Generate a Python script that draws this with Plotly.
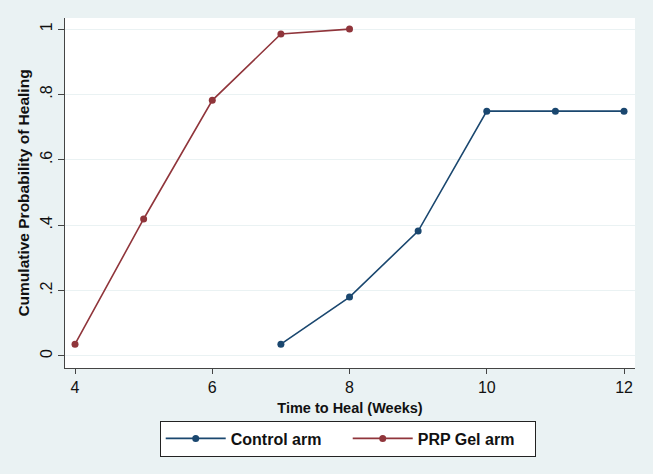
import plotly.graph_objects as go

weeks_control = [7, 8, 9, 10, 11, 12]
prob_control = [0.036, 0.18, 0.382, 0.749, 0.749, 0.749]
weeks_prp = [4, 5, 6, 7, 8]
prob_prp = [0.036, 0.419, 0.782, 0.985, 1.0]

x_ticks = [4, 6, 8, 10, 12]
y_ticks = [0, 0.2, 0.4, 0.6, 0.8, 1.0]
y_tick_labels = ["0", ".2", ".4", ".6", ".8", "1"]

navy = "#1a476f"
maroon = "#90353b"
bg = "#eaf2f3"

fig = go.Figure()
fig.add_trace(go.Scatter(x=weeks_control, y=prob_control, mode="lines+markers",
                         name="Control arm", line=dict(color=navy, width=1.6),
                         marker=dict(color=navy, size=7)))
fig.add_trace(go.Scatter(x=weeks_prp, y=prob_prp, mode="lines+markers",
                         name="PRP Gel arm", line=dict(color=maroon, width=1.6),
                         marker=dict(color=maroon, size=7)))

fig.update_layout(
    width=653, height=474,
    margin=dict(l=65, r=18, t=18, b=106),
    paper_bgcolor=bg, plot_bgcolor="white",
    font=dict(family="Liberation Sans, Arial", size=16, color="#111"),
    legend=dict(orientation="h", x=0.496, xanchor="center", y=-0.15, yanchor="top",
                bgcolor="white", bordercolor="#222", borderwidth=1,
                font=dict(size=16, family="Liberation Sans, Arial", color="#111", weight="bold"),
                entrywidth=112, itemwidth=60),
    xaxis=dict(range=[3.854, 12.16], tickvals=x_ticks, ticks="outside", ticklen=5,
               tickcolor="#444", showline=True, linecolor="#444", linewidth=1,
               showgrid=False, zeroline=False, tickfont=dict(size=16),
               title=dict(text="<b>Time to Heal (Weeks)</b>", font=dict(size=14.5), standoff=7)),
    yaxis=dict(range=[-0.037, 1.034], tickvals=y_ticks, ticktext=y_tick_labels,
               tickangle=-90, ticks="outside", ticklen=6, tickcolor="#444",
               showline=True, linecolor="#444", linewidth=1, tickfont=dict(size=16),
               showgrid=True, gridcolor=bg, gridwidth=1, zeroline=False,
               title=dict(text="<b>Cumulative Probability of Healing</b>", font=dict(size=15.5), standoff=4)),
)

fig.write_html("out.html", config={"displayModeBar": False},
               post_script="document.body.style.margin='0';document.body.style.background='#eaf2f3';")
